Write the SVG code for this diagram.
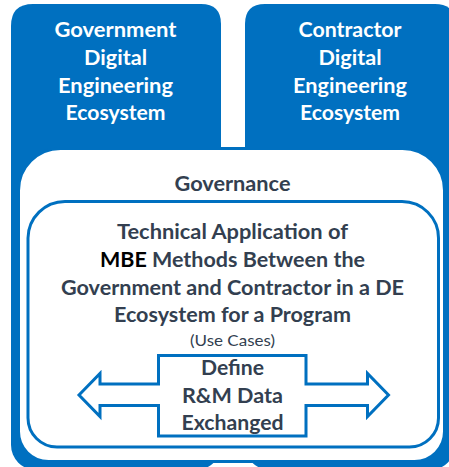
<svg xmlns="http://www.w3.org/2000/svg" width="449" height="467" viewBox="0 0 449 467">
  <style>
    .eco { fill: #0070C0; }
    .frame { fill: #FFFFFF; stroke: #0070C0; stroke-width: 3; stroke-linejoin: miter; }
    .t { font-family: Lato, "Liberation Sans", sans-serif; font-weight: bold; font-size: 20.5px; text-anchor: middle; }
    .w { fill: #FFFFFF; }
    .d { fill: #333F50; }
    .k { fill: #000000; }
    .small { font-weight: normal; font-size: 16px; }
  </style>

  <rect width="449" height="467" fill="#FFFFFF"/>

  <!-- Government ecosystem panel -->
  <g id="gov-ecosystem">
    <path class="eco" d="M11,26 Q11,4 33,4 L201,4 Q221,4 221,24 L221,445 A25,25 0 0 1 196,470 L36,470 A25,25 0 0 1 11,445 Z"/>
    <text class="t w" x="115.5" y="37" textLength="122" lengthAdjust="spacingAndGlyphs">Government</text>
    <text class="t w" x="115.5" y="65" textLength="63" lengthAdjust="spacingAndGlyphs">Digital</text>
    <text class="t w" x="115.5" y="93" textLength="115" lengthAdjust="spacingAndGlyphs">Engineering</text>
    <text class="t w" x="115.5" y="120" textLength="100" lengthAdjust="spacingAndGlyphs">Ecosystem</text>
  </g>

  <!-- Contractor ecosystem panel -->
  <g id="contractor-ecosystem">
    <path class="eco" d="M245,24 Q245,4 265,4 L435,4 Q455,4 455,24 L455,445 A25,25 0 0 1 430,470 L270,470 A25,25 0 0 1 245,445 Z"/>
    <text class="t w" x="350" y="37" textLength="103" lengthAdjust="spacingAndGlyphs">Contractor</text>
    <text class="t w" x="350" y="65" textLength="63" lengthAdjust="spacingAndGlyphs">Digital</text>
    <text class="t w" x="350" y="93" textLength="114" lengthAdjust="spacingAndGlyphs">Engineering</text>
    <text class="t w" x="350" y="120" textLength="100" lengthAdjust="spacingAndGlyphs">Ecosystem</text>
  </g>

  <!-- Governance layer spanning both ecosystems -->
  <g id="governance">
    <path class="frame" d="M18.5,190.5 A42,42 0 0 1 60.5,148.5 L402.5,148.5 A42,42 0 0 1 444.5,190.5 L444.5,431.5 A30,30 0 0 1 414.5,461.5 L48.5,461.5 A30,30 0 0 1 18.5,431.5 Z"/>
    <text class="t d" x="232.5" y="190.5" textLength="116" lengthAdjust="spacingAndGlyphs">Governance</text>
  </g>

  <!-- Use cases: technical application of MBE -->
  <g id="use-cases">
    <path class="frame" d="M28,238 A37,37 0 0 1 65,201.5 L402,201.5 A36.5,36.5 0 0 1 438.5,238 L438.5,418 A29,29 0 0 1 409.5,447 L57,447 A29,29 0 0 1 28,418 Z"/>
    <text class="t d" x="232.5" y="239" textLength="231" lengthAdjust="spacingAndGlyphs">Technical Application of</text>
    <text class="t d" x="232.5" y="267" textLength="265" lengthAdjust="spacingAndGlyphs"><tspan class="k">MBE</tspan> Methods Between the</text>
    <text class="t d" x="232.5" y="295" textLength="343" lengthAdjust="spacingAndGlyphs">Government and Contractor in a DE</text>
    <text class="t d" x="232.5" y="322" textLength="237" lengthAdjust="spacingAndGlyphs">Ecosystem for a Program</text>
    <text class="t d small" x="232.5" y="345.5" textLength="85" lengthAdjust="spacingAndGlyphs">(Use Cases)</text>
  </g>

  <!-- Two-way exchange arrow with its label box -->
  <g id="rm-data-exchange">
    <polygon class="frame" points="79,395 100,373.5 100,384 158.5,384 158.5,355.5 306,355.5 306,384 367.5,384 367.5,373.5 388.5,395 367.5,416.5 367.5,405.5 306,405.5 306,436 158.5,436 158.5,405.5 100,405.5 100,416.5"/>
    <text class="t d" x="232.5" y="375" textLength="63" lengthAdjust="spacingAndGlyphs">Define</text>
    <text class="t d" x="232.5" y="403" textLength="101" lengthAdjust="spacingAndGlyphs">R&amp;M Data</text>
    <text class="t d" x="232.5" y="430" textLength="102" lengthAdjust="spacingAndGlyphs">Exchanged</text>
  </g>
</svg>
